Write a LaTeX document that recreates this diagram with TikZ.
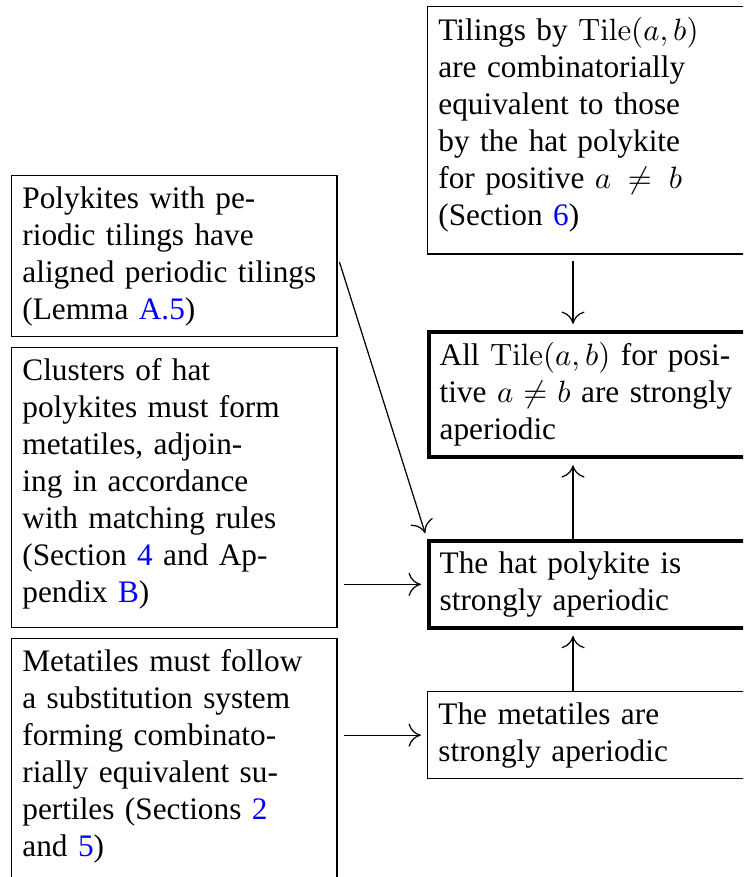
\documentclass[tikz,border=0pt]{standalone}
\usepackage[no-math]{fontspec}
\setmainfont{Liberation Serif}
\usetikzlibrary{arrows.meta}
\newcommand{\lnk}[1]{\textcolor{blue}{#1}}
\newcommand{\dep}[1]{\rule[-#1]{0pt}{#1}}
\begin{document}
\begin{tikzpicture}[x=0.3243pt,y=-0.3243pt,
  box/.style={draw, line width=0.4pt, text width=98.5pt, align=left, anchor=north west,
    font=\fontsize{10.15}{12}\selectfont, inner sep=3.5pt},
  bbox/.style={box, line width=1.2pt},
  arr/.style={-{To[length=4pt,width=7.5pt]}, line width=0.4pt, shorten <=2pt, shorten >=2pt}]
\useasboundingbox (0,0) rectangle (743,877);
\clip (0,0) rectangle (743,877);
\node[box] (p1) at (11,175) {Polykites with pe-\linebreak riodic tilings have\linebreak aligned periodic tilings\linebreak (Lemma \lnk{A.5})};
\node[box] (p2) at (11,347) {Clusters of hat\linebreak polykites must form\linebreak metatiles, adjoin-\linebreak ing in accordance\linebreak with matching rules\linebreak (Section \lnk{4} and Ap-\linebreak pendix \lnk{B})\dep{4.5pt}};
\node[box] (p3) at (11,638) {Metatiles must follow\linebreak a substitution system\linebreak forming combinato-\linebreak rially equivalent su-\linebreak pertiles (Sections \lnk{2}\linebreak and \lnk{5})\dep{4.5pt}};
\node[box] (t) at (427,6) {Tilings by $\mathrm{Tile}(a,b)$\linebreak are combinatorially\linebreak equivalent to those\linebreak by the hat polykite\linebreak for positive $a \neq b$\linebreak (Section \lnk{6})\dep{5.7pt}};
\node[bbox] (all) at (427,330) {All $\mathrm{Tile}(a,b)$ for posi-\linebreak tive $a \neq b$ are strongly\linebreak aperiodic};
\node[bbox] (hat) at (427,539) {The hat polykite is\linebreak strongly aperiodic};
\node[box] (meta) at (427,691) {The metatiles are\linebreak strongly aperiodic};
\coordinate (ax) at (573,0);
\draw[arr] (t.south -| ax) -- (all.north -| ax);
\draw[arr, shorten <=0pt] (hat.north -| ax) -- (all.south -| ax);
\draw[arr, shorten <=0pt] (meta.north -| ax) -- (hat.south -| ax);
\draw[arr] (p1.east) -- (hat.north west);
\draw[arr] (p2.east |- hat.west) -- (hat.west);
\draw[arr] (p3.east |- meta.west) -- (meta.west);
\end{tikzpicture}
\end{document}
